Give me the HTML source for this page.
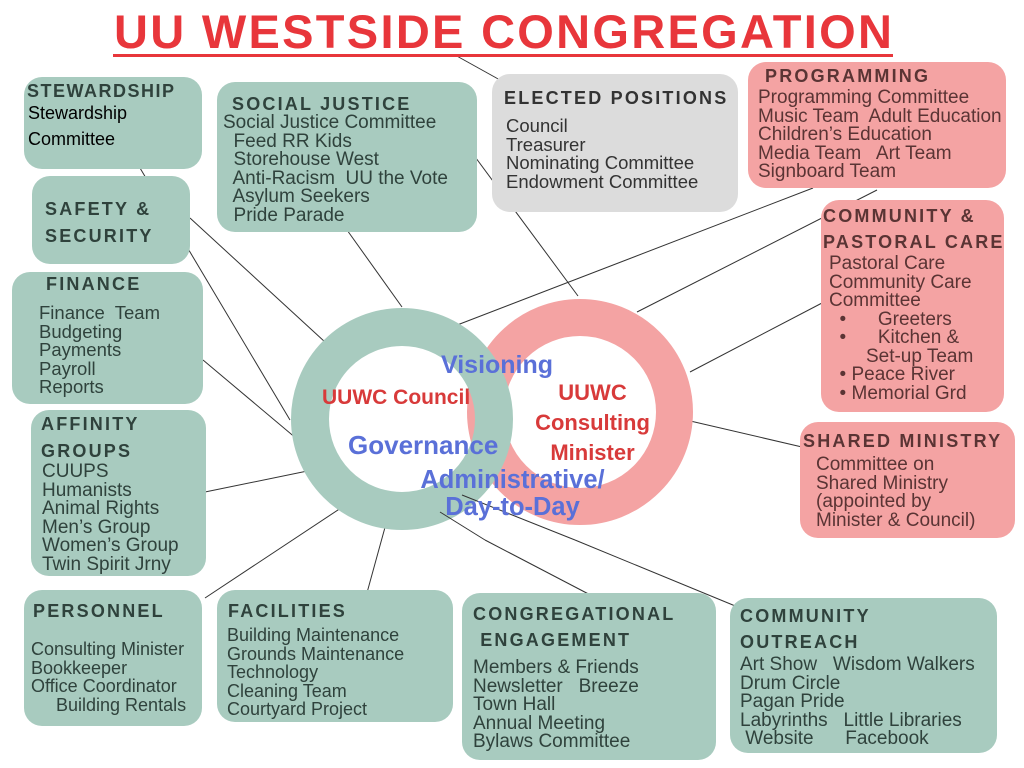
<!DOCTYPE html>
<html><head><meta charset="utf-8"><style>
body{margin:0;width:1024px;height:768px;background:#fff;position:relative;overflow:hidden;font-family:"Liberation Sans",sans-serif;}
.b{position:absolute;border-radius:18px;color:#2f423c;font-size:19px;line-height:18.5px;box-sizing:border-box;}
.g{background:#a8cbbf;}
.p{background:#f4a3a3;color:#5a3434;}
.y{background:#dcdcdc;color:#333;}
.h{font-weight:bold;letter-spacing:2.2px;font-size:18px;}
.t{position:absolute;white-space:pre;}
svg{position:absolute;left:0;top:0;}
</style></head><body>
<svg width="1024" height="768">
<g stroke="#333" stroke-width="1" fill="none">
<line x1="455" y1="55" x2="500" y2="80"/>
<line x1="140" y1="168" x2="290" y2="420"/>
<line x1="190" y1="218" x2="325" y2="342"/>
<line x1="203" y1="360" x2="322" y2="460"/>
<line x1="205" y1="492" x2="322" y2="468"/>
<line x1="205" y1="598" x2="350" y2="502"/>
<line x1="365" y1="600" x2="392" y2="502"/>
<line x1="347" y1="230" x2="402" y2="307"/>
<line x1="470" y1="150" x2="578" y2="296"/>
<line x1="813" y1="188" x2="452" y2="327"/>
<line x1="877" y1="190" x2="637" y2="312"/>
<line x1="822" y1="303" x2="690" y2="372"/>
<line x1="802" y1="447" x2="686" y2="420"/>
</g>
<circle cx="580" cy="412" r="94.5" fill="none" stroke="#f4a3a3" stroke-width="37"/>
<circle cx="402" cy="419" r="92" fill="none" stroke="#a8cbbf" stroke-width="38"/>
<g stroke="#333" stroke-width="1">
<line x1="440" y1="512" x2="485" y2="540"/>
<line x1="462" y1="495" x2="575" y2="540"/>
</g>
<line x1="485" y1="540" x2="600" y2="600" stroke="#333"/>
<line x1="575" y1="540" x2="745" y2="610" stroke="#333"/>
</svg>
<div style="position:absolute;left:114px;top:4px;font-size:47px;font-weight:bold;color:#e8363b;letter-spacing:2.3px;">UU WESTSIDE CONGREGATION</div>
<div style="position:absolute;left:113px;top:54px;width:780px;height:3px;background:#e8363b"></div>

<div class="b g" style="left:24px;top:77px;width:178px;height:92px;"><div class="t h" style="left:3px;top:5px;letter-spacing:1.5px">STEWARDSHIP</div><div class="t" style="left:4px;top:23px;color:#000;line-height:26px;font-size:18px">Stewardship
Committee</div></div>
<div class="b g" style="left:32px;top:176px;width:158px;height:88px;"><div class="t h" style="left:13px;top:20px;line-height:27px">SAFETY &amp;
SECURITY</div></div>
<div class="b g" style="left:12px;top:272px;width:191px;height:132px;"><div class="t h" style="left:34px;top:3px">FINANCE</div><div class="t" style="left:27px;top:32px;font-size:18.5px">Finance  Team
Budgeting
Payments
Payroll
Reports</div></div>
<div class="b g" style="left:31px;top:410px;width:175px;height:166px;"><div class="t h" style="left:10px;top:1px;line-height:27px">AFFINITY
GROUPS</div><div class="t" style="left:11px;top:53px">CUUPS
Humanists
Animal Rights
Men’s Group
Women’s Group
Twin Spirit Jrny</div></div>
<div class="b g" style="left:24px;top:590px;width:178px;height:136px;"><div class="t h" style="left:9px;top:12px">PERSONNEL</div><div class="t" style="left:7px;top:50px;font-size:18px">Consulting Minister
Bookkeeper
Office Coordinator
     Building Rentals</div></div>
<div class="b g" style="left:217px;top:82px;width:260px;height:150px;"><div class="t h" style="left:15px;top:13px">SOCIAL JUSTICE</div><div class="t" style="left:6px;top:32px">Social Justice Committee
  Feed RR Kids
  Storehouse West
  Anti-Racism  UU the Vote
  Asylum Seekers
  Pride Parade</div></div>
<div class="b g" style="left:217px;top:590px;width:236px;height:132px;"><div class="t h" style="left:11px;top:12px">FACILITIES</div><div class="t" style="left:10px;top:36px;font-size:18px">Building Maintenance
Grounds Maintenance
Technology
Cleaning Team
Courtyard Project</div></div>
<div class="b g" style="left:462px;top:593px;width:254px;height:167px;"><div class="t h" style="left:11px;top:8px;line-height:26px">CONGREGATIONAL
 ENGAGEMENT</div><div class="t" style="left:11px;top:66px">Members &amp; Friends
Newsletter   Breeze
Town Hall
Annual Meeting
Bylaws Committee</div></div>
<div class="b g" style="left:730px;top:598px;width:267px;height:155px;"><div class="t h" style="left:10px;top:5px;line-height:26px">COMMUNITY
OUTREACH</div><div class="t" style="left:10px;top:58px">Art Show   Wisdom Walkers
Drum Circle
Pagan Pride
Labyrinths   Little Libraries
 Website      Facebook</div></div>
<div class="b y" style="left:492px;top:74px;width:246px;height:138px;"><div class="t h" style="left:12px;top:15px">ELECTED POSITIONS</div><div class="t" style="left:14px;top:43px;font-size:18.5px">Council
Treasurer
Nominating Committee
Endowment Committee</div></div>
<div class="b p" style="left:748px;top:62px;width:258px;height:126px;"><div class="t h" style="left:17px;top:5px">PROGRAMMING</div><div class="t" style="left:10px;top:27px">Programming Committee
Music Team  Adult Education
Children’s Education
Media Team   Art Team
Signboard Team</div></div>
<div class="b p" style="left:821px;top:200px;width:183px;height:212px;"><div class="t h" style="left:2px;top:3px;line-height:26px">COMMUNITY &amp;
PASTORAL CARE</div><div class="t" style="left:8px;top:55px">Pastoral Care
Community Care
Committee
  •      Greeters
  •      Kitchen &amp;
       Set-up Team
  • Peace River
  • Memorial Grd</div></div>
<div class="b p" style="left:800px;top:422px;width:215px;height:116px;"><div class="t h" style="left:3px;top:10px">SHARED MINISTRY</div><div class="t" style="left:16px;top:34px">Committee on
Shared Ministry
(appointed by
Minister &amp; Council)</div></div>

<div style="position:absolute;left:322px;top:386px;font-size:21px;font-weight:bold;color:#d83a3a">UUWC Council</div>
<div style="position:absolute;left:530px;top:378px;width:125px;text-align:center;font-size:22px;font-weight:bold;color:#d83a3a;line-height:30px">UUWC<br>Consulting<br>Minister</div>
<div style="position:absolute;left:441px;top:351px;font-size:25px;font-weight:bold;color:#5a70d8">Visioning</div>
<div style="position:absolute;left:348px;top:430px;font-size:26px;font-weight:bold;color:#5a70d8">Governance</div>
<div style="position:absolute;left:405px;top:467px;width:215px;text-align:center;font-size:25.5px;font-weight:bold;color:#5a70d8;line-height:27px">Administrative/<br>Day-to-Day</div>
</body></html>
